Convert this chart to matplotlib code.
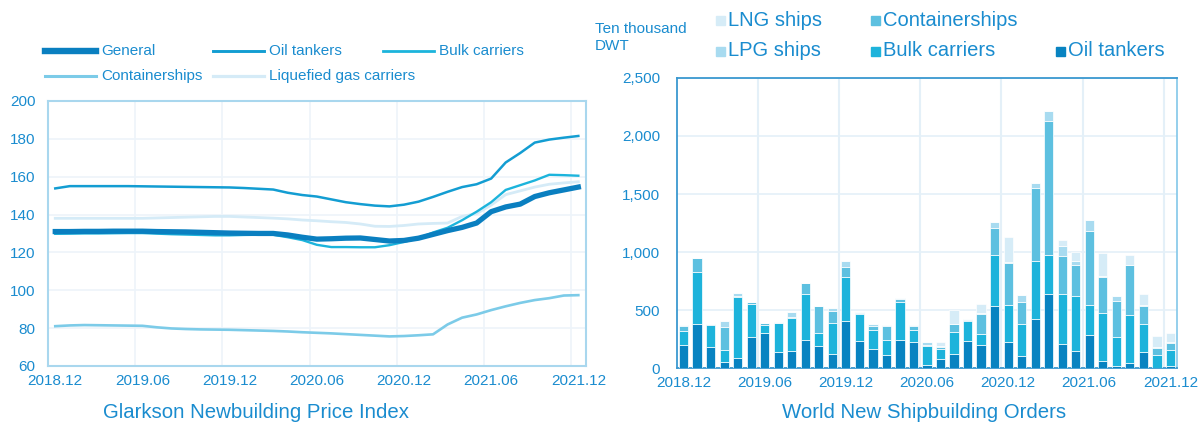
import numpy as np
import matplotlib.pyplot as plt
from matplotlib.lines import Line2D
from matplotlib.patches import Rectangle
from matplotlib.ticker import FuncFormatter

plt.rcParams['font.family'] = ['Liberation Sans', 'DejaVu Sans']

# --- datos: índice de precios de nueva construcción (mensual 2018.12 - 2021.12)
months = np.arange(37)
tick_labels = ['2018.12', '2019.06', '2019.12', '2020.06', '2020.12', '2021.06', '2021.12']

general = [131, 131, 131.1, 131.1, 131.2, 131.2, 131.2, 131, 130.9, 130.8, 130.6, 130.4,
           130.2, 130.1, 130, 130, 129.2, 128, 127, 127.2, 127.5, 127.6, 126.8, 126,
           126.3, 127.5, 129.5, 131.5, 133.2, 135.5, 141.5, 144, 145.5, 149.5, 151.5, 153, 154.5]
oil = [153.8, 155, 155, 155, 155, 155, 154.9, 154.8, 154.7, 154.6, 154.5, 154.4,
       154.3, 154, 153.6, 153.2, 151.5, 150.3, 149.5, 148, 146.5, 145.5, 144.7, 144.3,
       145.2, 146.8, 149.3, 152, 154.5, 156, 159, 167.5, 172.5, 178, 179.6, 180.6, 181.5]
bulk = [129.8, 129.9, 130, 130, 130.1, 130.2, 130.2, 129.9, 129.6, 129.4, 129.2, 129,
        129, 129.2, 129.3, 129.3, 128, 126.5, 124, 122.8, 122.8, 122.7, 122.7, 123.8,
        125.5, 127.5, 130.5, 133, 137, 141.5, 146.5, 153, 155.5, 158, 161, 160.8, 160.5]
container = [81, 81.4, 81.6, 81.5, 81.4, 81.3, 81.2, 80.4, 79.8, 79.5, 79.3, 79.2,
             79.1, 78.9, 78.7, 78.5, 78.2, 77.8, 77.5, 77.2, 76.8, 76.4, 76, 75.6,
             75.8, 76.2, 76.7, 81.9, 85.5, 87.2, 89.5, 91.5, 93.3, 94.8, 95.8, 97.2, 97.4]
gas = [138, 138, 138, 138, 138, 138, 138, 138.2, 138.4, 138.6, 138.8, 139,
       139, 138.7, 138.4, 138.1, 137.7, 137.1, 136.7, 136.2, 135.8, 135, 133.8, 133.7,
       134.2, 135, 135.3, 135.5, 139, 140.5, 145, 150.5, 152.5, 154.5, 156, 156.7, 157.3]

# --- datos: nuevos pedidos mundiales (diez mil TPM)
ord_oil = [202, 383, 181, 52, 86, 265, 305, 138, 147, 245, 193, 121, 406, 233, 164, 112, 245, 225,
           23, 81, 121, 230, 202, 536, 225, 104, 420, 639, 210, 147, 282, 63, 17, 46, 138, 3, 17]
ord_bulk = [115, 446, 188, 106, 527, 291, 69, 251, 288, 397, 109, 271, 380, 236, 167, 133, 328, 100,
            167, 80, 190, 173, 92, 437, 319, 279, 504, 334, 426, 472, 259, 412, 251, 409, 245, 112, 136]
ord_cont = [45, 116, 8, 196, 5, 11, 12, 3, 5, 87, 231, 100, 87, 9, 32, 118, 23, 38,
            12, 20, 66, 15, 175, 237, 363, 187, 631, 1152, 329, 268, 640, 311, 311, 432, 156, 58, 66]
ord_lpg = [8, 5, 3, 49, 27, 3, 4, 2, 41, 8, 5, 23, 49, 3, 14, 6, 9, 6,
           23, 10, 5, 5, 5, 46, 5, 58, 38, 87, 86, 37, 95, 5, 40, 5, 5, 5, 5]
ord_lng = [0, 0, 0, 0, 0, 0, 0, 0, 0, 0, 0, 0, 0, 0, 0, 0, 0, 0,
           0, 34, 116, 0, 76, 0, 214, 0, 0, 0, 52, 78, 0, 197, 0, 81, 90, 98, 76]

blue_txt = '#1a8ccf'
W, H = 1200, 426

fig = plt.figure(figsize=(12, 4.26), dpi=100)

# ---------------- grafico izquierdo
ax1 = fig.add_axes([0.04, 0.141, 0.448, 0.622])
line_styles = {
    'General': ('#0a7fc0', 3.8),
    'Oil tankers': ('#139dd2', 1.8),
    'Bulk carriers': ('#1cb4dc', 1.7),
    'Containerships': ('#7ccbe8', 1.9),
    'Liquefied gas carriers': ('#d5ebf7', 2.0),
}
ax1.plot(months, gas, color=line_styles['Liquefied gas carriers'][0], lw=2.0, zorder=2)
ax1.plot(months, container, color=line_styles['Containerships'][0], lw=1.9, zorder=2)
ax1.plot(months, bulk, color=line_styles['Bulk carriers'][0], lw=1.7, zorder=3)
ax1.plot(months, oil, color=line_styles['Oil tankers'][0], lw=1.8, zorder=3)
ax1.plot(months, general, color=line_styles['General'][0], lw=3.8, zorder=4)

ax1.set_xlim(-0.5, 36.5)
ax1.set_ylim(60, 200)
ax1.set_yticks(range(60, 201, 20))
ax1.set_xticks(range(0, 37, 6))
ax1.set_xticklabels(tick_labels)
ax1.set_xticks(np.arange(5.5, 36, 6), minor=True)
ax1.grid(which='minor', axis='x', color='#edf4fa', lw=1.2)
ax1.grid(which='major', axis='y', color='#edf4fa', lw=1.2)
ax1.set_axisbelow(True)
ax1.tick_params(which='both', length=0, colors=blue_txt, labelsize=11)
ax1.tick_params(axis='x', pad=6)
ax1.tick_params(axis='y', pad=9)
for s in ax1.spines.values():
    s.set_color('#a9d7ee')
    s.set_linewidth(1.5)

# leyenda izquierda colocada a mano (columnas solapadas como en el original)
leg1 = [('General', 45, 51), ('Oil tankers', 213, 51), ('Bulk carriers', 383, 51),
        ('Containerships', 45, 76), ('Liquefied gas carriers', 213, 76)]
for name, x0, y0 in leg1:
    c, lw = line_styles[name]
    yf = 1 - y0 / H
    fig.add_artist(Line2D([x0 / W, (x0 + 51) / W], [yf, yf], color=c,
                          lw=lw + (0.8 if name == 'General' else 0.3), transform=fig.transFigure))
    fig.text((x0 + 56) / W, yf, name, ha='left', va='center', fontsize=11, color=blue_txt)

fig.text(0.213, 0.018, 'Glarkson Newbuilding Price Index', ha='center', fontsize=14.7, color=blue_txt)

# ---------------- grafico derecho
ax2 = fig.add_axes([0.564, 0.136, 0.417, 0.681])
colors = {'Oil tankers': '#0883c1', 'Bulk carriers': '#1db3db', 'Containerships': '#5dc0e0',
          'LPG ships': '#a8dbf0', 'LNG ships': '#d6ecf7'}
w = 0.68
bottom = np.zeros(37)
series = [(ord_oil, 'Oil tankers'), (ord_bulk, 'Bulk carriers'), (ord_cont, 'Containerships'),
          (ord_lpg, 'LPG ships'), (ord_lng, 'LNG ships')]
for vals, name in series:
    ax2.bar(months, vals, w, bottom=bottom, color=colors[name], edgecolor='white', linewidth=0.5,
            zorder=3)
    bottom += np.array(vals)

ax2.set_xlim(-0.5, 36.5)
ax2.set_ylim(0, 2500)
ax2.set_yticks(range(0, 2501, 500))
ax2.yaxis.set_major_formatter(FuncFormatter(lambda v, p: f'{int(v):,}'))
ax2.set_xticks(range(0, 37, 6))
ax2.set_xticklabels(tick_labels)
ax2.set_xticks(np.arange(5.5, 36, 6), minor=True)
ax2.grid(which='minor', axis='x', color='#e4f0f8', lw=1.5)
ax2.grid(which='major', axis='y', color='#e4f0f8', lw=1.2)
ax2.set_axisbelow(True)
ax2.tick_params(which='both', length=0, colors=blue_txt, labelsize=11)
ax2.tick_params(axis='x', pad=6)
ax2.tick_params(axis='y', pad=12)
for k, s in ax2.spines.items():
    s.set_color('#3a98d0' if k != 'right' else '#8ccbea')
    s.set_linewidth(1.3)

# leyenda derecha colocada a mano
leg2 = [('LNG ships', 716, 20), ('Containerships', 871, 20),
        ('LPG ships', 716, 51), ('Bulk carriers', 871, 51), ('Oil tankers', 1056, 51)]
for name, x0, y0 in leg2:
    yf = 1 - y0 / H
    fig.add_artist(Rectangle((x0 / W, yf - 4.5 / H), 9 / W, 9 / H, color=colors[name],
                             transform=fig.transFigure))
    fig.text((x0 + 12) / W, yf, name, ha='left', va='center', fontsize=14.5, color=blue_txt)

fig.text(595 / W, 1 - 37.5 / H, 'Ten thousand\nDWT', ha='left', va='center', fontsize=11,
         color=blue_txt, linespacing=1.25)
fig.text(0.77, 0.018, 'World New Shipbuilding Orders', ha='center', fontsize=14.7, color=blue_txt)

fig.savefig('out.png', dpi=100)
